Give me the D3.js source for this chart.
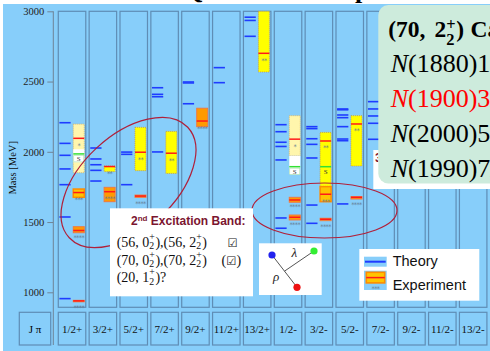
<!DOCTYPE html>
<html>
<head>
<meta charset="utf-8">
<script src="https://cdn.jsdelivr.net/npm/d3@7"></script>
<style>
  html, body { margin: 0; padding: 0; background: #fff; }
  svg { display: block; }
  text { white-space: pre; }
</style>
</head>
<body>
<svg id="chart" width="490" height="351"></svg>
<script>
// ---- data -----------------------------------------------------------
const columns = ["1/2+", "3/2+", "5/2+", "7/2+", "9/2+", "11/2+", "13/2+",
                 "1/2-", "3/2-", "5/2-", "7/2-", "9/2-", "11/2-", "13/2-"];
const yTicks = [1000, 1500, 2000, 2500, 3000];

// quark-model states (MeV)
const theoryColumn = [
  "1/2+", "1/2+", "1/2+", "1/2+", "1/2+", "1/2+", "1/2+",
  "3/2+", "3/2+", "3/2+", "3/2+", "3/2+",
  "5/2+", "5/2+", "5/2+",
  "7/2+", "7/2+", "7/2+", "7/2+",
  "9/2+", "9/2+", "9/2+",
  "11/2+", "11/2+",
  "13/2+", "13/2+", "13/2+",
  "1/2-", "1/2-", "1/2-", "1/2-", "1/2-", "1/2-", "1/2-",
  "3/2-", "3/2-", "3/2-", "3/2-", "3/2-", "3/2-", "3/2-",
  "5/2-", "5/2-", "5/2-", "5/2-", "5/2-", "5/2-", "5/2-", "5/2-",
  "7/2-", "7/2-", "7/2-", "7/2-", "7/2-"
];
const theoryMass = [
  2207, 2060, 1975, 1878, 1766, 1536, 955,
  2027, 1949, 1908, 1868, 1792,
  1998, 1982, 1766,
  2456, 2409, 2392, 1999,
  2497, 2490, 2342,
  2599, 2492,
  2958, 2935, 2822,
  2193, 2143, 2068, 2038, 1942, 1529, 1456,
  2179, 2165, 2093, 2053, 1956, 1621, 1491,
  2305, 2299, 2262, 2243, 2179, 2091, 2079, 1629,
  2357, 2305, 2255, 2203, 2089
];

// measured resonances: Breit-Wigner mass, mass range, star rating
const expColumn = ["1/2+", "1/2+", "1/2+", "1/2+", "3/2+", "3/2+", "5/2+", "5/2+",
                   "7/2+", "9/2+", "13/2+", "1/2-", "1/2-", "1/2-", "3/2-", "3/2-",
                   "3/2-", "5/2-", "5/2-", "7/2-"];
const expMass   = [2096, 1710, 1440, 939, 1895, 1716, 1997, 1685,
                   1990, 2219, 2701, 2090, 1657, 1534, 2077, 1698,
                   1520, 2198, 1676, 2190];
const expLow    = [1851, 1676, 1424, 935, 1859, 1645, 1866, 1676,
                   1846, 2179, 2568, 1972, 1641, 1515, 1754, 1645,
                   1510, 1899, 1664, 2100];
const expHigh   = [2197, 1735, 1467, 943, 1899, 1747, 2174, 1692,
                   2145, 2310, 3000, 2257, 1676, 1550, 2138, 1752,
                   1527, 2257, 1681, 2250];
const expStars  = [1, 3, 4, 4, 2, 4, 2, 4,
                   2, 4, 2, 1, 4, 4, 2, 3,
                   4, 2, 4, 4];

// states only seen in recent analyses ("S")
const seenColumn   = ["1/2+", "1/2-", "3/2-"];
const seenMass     = [1985, 1894, 1894];
const seenBandLow  = [1925, 1842, null];
const seenBandHigh = [2018, 1972, null];

// ---- setup ----------------------------------------------------------
const W = 490, H = 351;
const SERIF = "'Liberation Serif', 'Times New Roman', serif";
const SANS = "'Liberation Sans', Arial, sans-serif";
const svg = d3.select("#chart");

const x = d3.scaleBand().domain(columns).range([56.6, 488.6])
  .paddingInner(0.109).paddingOuter(0.0545);
const bw = x.bandwidth();
const y = d3.scaleLinear().domain([1000, 3000]).range([292.3, 11.3]);
const panelTop = y(3000), panelBottom = 307.3;
const labelTop = 312.3, labelBottom = 345;
const SKY = "#87cefa", EDGE = "#5f8db5";

svg.append("rect").attr("width", W).attr("height", H).attr("fill", "#fff");
svg.append("rect").attr("x", 3).attr("y", 4).attr("width", W - 3).attr("height", H - 4)
  .attr("fill", SKY);

// slide heading, mostly above the visible area
svg.append("text").attr("x", 183).attr("y", -2)
  .attr("font-family", SERIF).attr("font-weight", "bold").attr("font-size", 26)
  .attr("fill", "#000").text("Quark Model Spectrum");

// ---- column panels --------------------------------------------------
svg.append("g").selectAll("rect").data(columns).join("rect")
  .attr("x", d => x(d)).attr("y", panelTop)
  .attr("width", bw).attr("height", panelBottom - panelTop)
  .attr("fill", SKY).attr("stroke", EDGE).attr("stroke-width", 1.2);

// ---- theory levels --------------------------------------------------
const theory = theoryColumn.map((c, i) => ({ c, m: theoryMass[i] }));
svg.append("g").selectAll("line").data(theory).join("line")
  .attr("x1", d => x(d.c) + bw * 0.04).attr("x2", d => x(d.c) + bw * 0.45)
  .attr("y1", d => y(d.m)).attr("y2", d => y(d.m))
  .attr("stroke", "#1f3cff").attr("stroke-width", 1.6);

// ---- experimental states --------------------------------------------
const boxStyle = {
  4: { fill: "#ff9a00", stroke: "#f07a40", sw: 1, dash: null },
  3: { fill: "#ffc400", stroke: "#ff8c00", sw: 1.5, dash: null },
  2: { fill: "#ffff00", stroke: "#c89640", sw: 0.8, dash: "1,1" },
  1: { fill: "#fff6ac", stroke: "#d8b060", sw: 0.8, dash: "1,1" }
};
const exp = expColumn.map((c, i) => ({
  c, m: expMass[i], lo: expLow[i], hi: expHigh[i], r: expStars[i]
}));
const ex0 = d => x(d.c) + bw * 0.545;
const exW = bw * 0.40;

const eg = svg.append("g");
eg.selectAll("rect").data(exp).join("rect")
  .attr("x", ex0).attr("width", exW)
  .attr("y", d => y(d.hi)).attr("height", d => Math.max(1.5, y(d.lo) - y(d.hi)))
  .attr("fill", d => boxStyle[d.r].fill)
  .attr("stroke", d => boxStyle[d.r].stroke)
  .attr("stroke-width", d => boxStyle[d.r].sw)
  .attr("stroke-dasharray", d => boxStyle[d.r].dash);
eg.selectAll("line").data(exp).join("line")
  .attr("x1", ex0).attr("x2", d => ex0(d) + exW)
  .attr("y1", d => y(d.m)).attr("y2", d => y(d.m))
  .attr("stroke", "#ff1a1a").attr("stroke-width", 1.5);

// seen-only states
const seen = seenColumn.map((c, i) => ({
  c, m: seenMass[i], lo: seenBandLow[i], hi: seenBandHigh[i]
}));
const sg = svg.append("g");
sg.selectAll("rect.band").data(seen.filter(d => d.lo !== null)).join("rect")
  .attr("class", "band")
  .attr("x", ex0).attr("width", exW)
  .attr("y", d => y(d.hi)).attr("height", d => y(d.lo) - y(d.hi))
  .attr("fill", "#fff");
sg.selectAll("rect.tag").data(seen.filter(d => d.lo !== null)).join("rect")
  .attr("class", "tag")
  .attr("x", d => ex0(d) + 0.5).attr("width", exW - 1)
  .attr("y", d => y(d.m) + 1.5).attr("height", 6.5)
  .attr("fill", "#fff").attr("stroke", "#a8e0a8").attr("stroke-width", 0.6);
sg.selectAll("line").data(seen).join("line")
  .attr("x1", ex0).attr("x2", d => ex0(d) + exW)
  .attr("y1", d => y(d.m)).attr("y2", d => y(d.m))
  .attr("stroke", "#33e033").attr("stroke-width", 1.5);
sg.selectAll("text").data(seen).join("text")
  .attr("x", d => ex0(d) + exW / 2).attr("y", d => y(d.m) + 7.4)
  .attr("text-anchor", "middle").attr("font-family", SERIF).attr("font-size", 7)
  .attr("fill", "#333").text("S");

// star ratings
eg.selectAll("text").data(exp).join("text")
  .attr("x", d => ex0(d) + exW / 2).attr("y", d => y(d.m) + 9.5)
  .attr("text-anchor", "middle").attr("font-family", "'DejaVu Sans', sans-serif")
  .attr("font-size", 6.5).attr("letter-spacing", -0.6)
  .attr("fill", "#62788e").text(d => "*".repeat(d.r));

// ---- axis -----------------------------------------------------------
const axis = d3.axisLeft(y).tickValues(yTicks).tickFormat(d3.format("d"))
  .tickSize(6).tickSizeOuter(0).tickPadding(3);
const ag = svg.append("g").attr("transform", "translate(53.3,0)").call(axis);
ag.select(".domain").remove();
ag.selectAll("line").attr("stroke", "#6f8496");
ag.selectAll("text").attr("font-family", SERIF).attr("font-size", 10.5).attr("fill", "#222");
svg.append("line").attr("x1", 53.3).attr("x2", 53.3).attr("y1", panelTop).attr("y2", labelBottom)
  .attr("stroke", "#6f8496").attr("stroke-width", 1);
svg.append("text")
  .attr("transform", `translate(14,${(y(1000) + y(3000)) / 2 + 16}) rotate(-90)`)
  .attr("text-anchor", "middle").attr("dominant-baseline", "middle")
  .attr("font-family", SERIF).attr("font-size", 10.5).attr("fill", "#111")
  .text("Mass [MeV]");

// ---- J^P label row --------------------------------------------------
const lg = svg.append("g");
lg.append("rect").attr("x", 19.3).attr("y", labelTop).attr("width", 31.4)
  .attr("height", labelBottom - labelTop).attr("fill", SKY)
  .attr("stroke", EDGE).attr("stroke-width", 1.2);
lg.append("text").attr("x", 35).attr("y", 332.5).attr("text-anchor", "middle")
  .attr("font-family", SERIF).attr("font-size", 11).text("J π");
lg.selectAll("rect.jp").data(columns).join("rect").attr("class", "jp")
  .attr("x", d => x(d)).attr("y", labelTop).attr("width", bw)
  .attr("height", labelBottom - labelTop).attr("fill", SKY)
  .attr("stroke", EDGE).attr("stroke-width", 1.2);
lg.selectAll("text.jp").data(columns).join("text").attr("class", "jp")
  .attr("x", d => x(d) + bw / 2).attr("y", 332.5).attr("text-anchor", "middle")
  .attr("font-family", SERIF).attr("font-size", 11).attr("fill", "#111").text(d => d);

// ---- highlight ellipses ---------------------------------------------
svg.append("ellipse").attr("cx", 0).attr("cy", 0).attr("rx", 81).attr("ry", 47)
  .attr("transform", "translate(128.5,182.5) rotate(-43)")
  .attr("fill", "none").attr("stroke", "#b0203a").attr("stroke-width", 1.2);
svg.append("ellipse").attr("cx", 324.5).attr("cy", 210.5).attr("rx", 72.5).attr("ry", 27.5)
  .attr("fill", "none").attr("stroke", "#b0203a").attr("stroke-width", 1.2);

// ---- text helper: one <text> per line, tspans for stacked scripts -----
function rich(g, x0, yb, parts, base) {
  const text = g.append("text").attr("xml:space", "preserve")
    .attr("font-family", base.family).attr("font-size", base.size)
    .attr("font-weight", base.weight || "normal").attr("fill", base.fill);
  let cx = x0;
  const span = (str, xx, yy, opt) => {
    const s = text.append("tspan").attr("x", xx).attr("y", yy).text(str);
    if (opt.family) s.attr("font-family", opt.family);
    if (opt.size) s.attr("font-size", opt.size);
    if (opt.italic) s.attr("font-style", "italic");
    if (opt.fill) s.attr("fill", opt.fill);
    return s.node().getComputedTextLength();
  };
  for (const p of parts) {
    if (p.skip) { cx += p.skip; continue; }
    if (p.at !== undefined) { cx = p.at; continue; }
    if (p.stack) {
      const fs = base.size * 0.7;
      const wa = span(p.stack[0], cx, yb - base.size * base.up, { size: fs });
      const wb = span(p.stack[1], cx, yb + base.size * base.down, { size: fs });
      cx += Math.max(wa, wb) + 0.5;
    } else {
      cx += span(p.t, cx, yb - (p.shift || 0), p);
    }
  }
  return text;
}

// ---- second excitation band note ------------------------------------
const nb = svg.append("g");
nb.append("rect").attr("x", 110).attr("y", 208.3).attr("width", 143).attr("height", 88)
  .attr("fill", "#fff");
rich(nb, 131, 225, [
  { t: "2" }, { t: "nd", size: 8, shift: 4 }, { t: " Excitation Band:" }
], { family: SANS, size: 12, weight: "bold", fill: "#7b1530" });
const mathBase = { family: SERIF, size: 14, fill: "#111", up: 0.5, down: 0.18 };
const CHECK = { family: "'DejaVu Sans', sans-serif", size: 11.5 };
rich(nb, 116.7, 246.7, [
  { t: "(56, 0" }, { stack: ["+", "2"] }, { t: "),(56, 2" }, { stack: ["+", "2"] }, { t: ")" },
  { at: 227.5 }, { t: "☑", family: CHECK.family, size: CHECK.size }
], mathBase);
rich(nb, 116.7, 264.5, [
  { t: "(70, 0" }, { stack: ["+", "2"] }, { t: "),(70, 2" }, { stack: ["+", "2"] }, { t: ")" },
  { at: 221.5 }, { t: "(" }, { t: "☑", family: CHECK.family, size: CHECK.size }, { t: ")" }
], mathBase);
rich(nb, 116.7, 282.3, [
  { t: "(20, 1" }, { stack: ["+", "2"] }, { t: ")?" }
], mathBase);

// ---- Jacobi coordinates sketch --------------------------------------
const jg = svg.append("g");
jg.append("rect").attr("x", 259).attr("y", 243.3).attr("width", 62.7).attr("height", 51.7)
  .attr("fill", "#fff");
const qB = [272, 255], qR = [297, 287.3], qG = [314, 251];
const mid = [(qB[0] + qR[0]) / 2, (qB[1] + qR[1]) / 2];
jg.append("line").attr("x1", qB[0]).attr("y1", qB[1]).attr("x2", qR[0]).attr("y2", qR[1])
  .attr("stroke", "#555").attr("stroke-width", 1);
jg.append("line").attr("x1", qG[0]).attr("y1", qG[1]).attr("x2", mid[0]).attr("y2", mid[1])
  .attr("stroke", "#555").attr("stroke-width", 1);
[[qB, "#2222ee"], [qG, "#33ee33"], [qR, "#ee1111"]].forEach(([p, c]) =>
  jg.append("circle").attr("cx", p[0]).attr("cy", p[1]).attr("r", 3.6).attr("fill", c));
jg.append("text").attr("x", 291.5).attr("y", 256.5).attr("font-family", SERIF)
  .attr("font-style", "italic").attr("font-size", 13).attr("fill", "#222").text("λ");
jg.append("text").attr("x", 273).attr("y", 280.5).attr("font-family", SERIF)
  .attr("font-style", "italic").attr("font-size", 13).attr("fill", "#222").text("ρ");

// ---- legend ---------------------------------------------------------
const leg = svg.append("g");
leg.append("rect").attr("x", 359.3).attr("y", 249).attr("width", 120).attr("height", 51.7)
  .attr("fill", "#fff");
leg.append("rect").attr("x", 364).attr("y", 256.7).attr("width", 22.7).attr("height", 10)
  .attr("fill", SKY);
leg.append("line").attr("x1", 365).attr("x2", 385.7).attr("y1", 261.7).attr("y2", 261.7)
  .attr("stroke", "#1f3cff").attr("stroke-width", 2);
leg.append("rect").attr("x", 364).attr("y", 270.7).attr("width", 22.7).attr("height", 19.3)
  .attr("fill", SKY);
leg.append("rect").attr("x", 366.3).attr("y", 272.3).attr("width", 18.4).attr("height", 10.6)
  .attr("fill", "#ffc400").attr("stroke", "#ff8c00").attr("stroke-width", 1.6);
leg.append("line").attr("x1", 366.3).attr("x2", 384.7).attr("y1", 277.6).attr("y2", 277.6)
  .attr("stroke", "#ff1a1a").attr("stroke-width", 1.5);
leg.append("text").attr("x", 375.5).attr("y", 290.5).attr("text-anchor", "middle")
  .attr("font-family", "'DejaVu Sans', sans-serif").attr("font-size", 6.5)
  .attr("letter-spacing", -0.6).attr("fill", "#62788e").text("***");
leg.append("text").attr("x", 392.7).attr("y", 265.7).attr("font-family", SANS)
  .attr("font-size", 14.5).attr("fill", "#111").text("Theory");
leg.append("text").attr("x", 392.7).attr("y", 289.5).attr("font-family", SANS)
  .attr("font-size", 14.5).attr("fill", "#111").text("Experiment");

// ---- third excitation band note (mostly under the candidates panel) ---
const tb = svg.append("g");
tb.append("clipPath").attr("id", "noteClip")
  .append("rect").attr("x", 373.3).attr("y", 150).attr("width", 5).attr("height", 39);
tb.append("rect").attr("x", 373.3).attr("y", 150).attr("width", 130).attr("height", 39)
  .attr("fill", "#fff");
tb.append("text").attr("x", 375).attr("y", 162).attr("clip-path", "url(#noteClip)")
  .attr("font-family", SANS).attr("font-weight", "bold").attr("font-size", 12)
  .attr("fill", "#7b1530").text("3rd");

// ---- (70, 2+) candidates panel ---------------------------------------
const cp = svg.append("g");
cp.append("rect").attr("x", 378.3).attr("y", 5).attr("width", 140).attr("height", 178.5)
  .attr("rx", 10).attr("ry", 10).attr("fill", "#cdebdc");
rich(cp, 388.3, 36.7, [
  { t: "(70," }, { at: 434.5 }, { t: "2" }, { stack: ["+", "2"] }, { t: ")" },
  { at: 470.5 }, { t: "Candidates" }
], { family: SERIF, size: 23.5, weight: "bold", fill: "#000", up: 0.27, down: 0.36 });
const candMass = ["1880", "1900", "2000", "1990"];
const candSpin = ["1/2", "3/2", "5/2", "7/2"];
const candColor = ["#000", "#ff0000", "#000", "#000"];
const candBase = [71.7, 106.5, 142, 176.7];
candMass.forEach((m, i) => {
  rich(cp, 390.7, candBase[i], [
    { t: "N", italic: true }, { t: `(${m})` }, { t: candSpin[i] + "+" }
  ], { family: SERIF, size: 26, fill: candColor[i] });
});
</script>
</body>
</html>
